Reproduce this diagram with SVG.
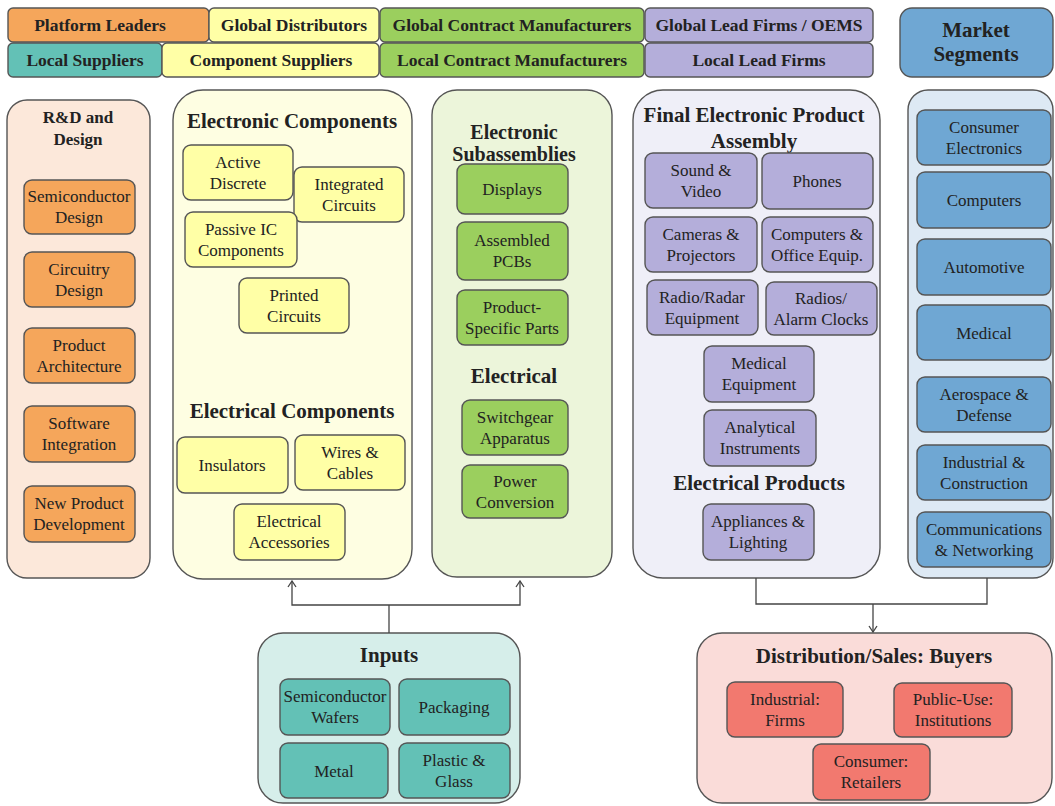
<svg xmlns="http://www.w3.org/2000/svg" width="1055" height="806" viewBox="0 0 1055 806">
<style>
text{font-family:"Liberation Serif","Times New Roman",serif;fill:#222;text-anchor:middle}
.lg{font-size:17.5px;font-weight:bold}
.ti{font-size:21px;font-weight:bold}
.bx{font-size:17px}
rect{stroke:#555;stroke-width:1.4}
.col{rx:20px;ry:20px}
.b{rx:8px;ry:8px}
.or{fill:#F5A65B}.ye{fill:#FFFFA6}.gr{fill:#9BCF5E}.pu{fill:#B4AEDA}.bl{fill:#6FA7D3}.te{fill:#63C1B6}.re{fill:#F2796F}
.conn{fill:none;stroke:#444;stroke-width:1.3}
</style>
<defs>
<marker id="ah" markerWidth="10" markerHeight="10" refX="9" refY="5" orient="auto-start-reverse" markerUnits="userSpaceOnUse" viewBox="0 0 10 10">
<path d="M3,1 L9,5 L3,9" fill="none" stroke="#444" stroke-width="1.3"/>
</marker>
</defs>
<rect width="1055" height="806" style="fill:#fff;stroke:none"/>

<g id="legend">
<rect class="or" x="8" y="8" width="201" height="34" rx="5"/><text class="lg" x="100" y="31">Platform Leaders</text>
<rect class="ye" x="209" y="8" width="170" height="34" rx="5"/><text class="lg" x="294" y="31">Global Distributors</text>
<rect class="gr" x="380" y="8" width="264" height="34" rx="5"/><text class="lg" x="512" y="31">Global Contract Manufacturers</text>
<rect class="pu" x="645" y="8" width="228" height="34" rx="5"/><text class="lg" x="759" y="31">Global Lead Firms / OEMS</text>
<rect class="te" x="8" y="43" width="154" height="34" rx="5"/><text class="lg" x="85" y="66">Local Suppliers</text>
<rect class="ye" x="162" y="43" width="217" height="34" rx="5"/><text class="lg" x="271" y="66">Component Suppliers</text>
<rect class="gr" x="380" y="43" width="264" height="34" rx="5"/><text class="lg" x="512" y="66">Local Contract Manufacturers</text>
<rect class="pu" x="645" y="43" width="228" height="34" rx="5"/><text class="lg" x="759" y="66">Local Lead Firms</text>
<rect class="bl" x="900" y="8" width="153" height="69" rx="12"/><text class="ti" x="976" y="37">Market</text><text class="ti" x="976" y="61">Segments</text>
</g>

<g id="rnd">
<rect class="col" x="7" y="100" width="143" height="478" fill="#FCE8DA"/>
<text class="ti" x="78" y="123" style="font-size:17px">R&amp;D and</text>
<text class="ti" x="78" y="145" style="font-size:17px">Design</text>
<rect class="b or" x="24" y="180" width="111" height="54"/><text class="bx" x="79" y="202">Semiconductor</text><text class="bx" x="79" y="223">Design</text>
<rect class="b or" x="24" y="252" width="111" height="55"/><text class="bx" x="79" y="274.5">Circuitry</text><text class="bx" x="79" y="295.5">Design</text>
<rect class="b or" x="24" y="328" width="111" height="55"/><text class="bx" x="79" y="350.5">Product</text><text class="bx" x="79" y="371.5">Architecture</text>
<rect class="b or" x="24" y="406" width="111" height="56"/><text class="bx" x="79" y="429">Software</text><text class="bx" x="79" y="450">Integration</text>
<rect class="b or" x="24" y="486" width="111" height="56"/><text class="bx" x="79" y="509">New Product</text><text class="bx" x="79" y="530">Development</text>
</g>

<g id="electronic-components">
<rect class="col" x="173" y="90" width="239" height="489" style="rx:30px;ry:30px" fill="#FEFEE2"/>
<text class="ti" x="292" y="128">Electronic Components</text>
<rect class="b ye" x="183" y="145" width="110" height="55"/><text class="bx" x="238" y="167.5">Active</text><text class="bx" x="238" y="188.5">Discrete</text>
<rect class="b ye" x="294" y="167" width="110" height="55"/><text class="bx" x="349" y="189.5">Integrated</text><text class="bx" x="349" y="210.5">Circuits</text>
<rect class="b ye" x="185" y="212" width="112" height="55"/><text class="bx" x="241" y="234.5">Passive IC</text><text class="bx" x="241" y="255.5">Components</text>
<rect class="b ye" x="239" y="278" width="110" height="55"/><text class="bx" x="294" y="300.5">Printed</text><text class="bx" x="294" y="321.5">Circuits</text>
<text class="ti" x="292" y="418">Electrical Components</text>
<rect class="b ye" x="177" y="437" width="111" height="56"/><text class="bx" x="232" y="471">Insulators</text>
<rect class="b ye" x="295" y="435" width="110" height="55"/><text class="bx" x="350" y="457.5">Wires &amp;</text><text class="bx" x="350" y="478.5">Cables</text>
<rect class="b ye" x="234" y="504" width="111" height="56"/><text class="bx" x="289" y="527">Electrical</text><text class="bx" x="289" y="548">Accessories</text>
</g>

<g id="subassemblies">
<rect class="col" x="432" y="90" width="180" height="487" style="rx:25px;ry:25px" fill="#ECF5DA"/>
<text class="ti" x="514" y="139" style="font-size:20px">Electronic</text>
<text class="ti" x="514" y="161" style="font-size:20px">Subassemblies</text>
<rect class="b gr" x="457" y="164" width="111" height="50"/><text class="bx" x="512" y="195">Displays</text>
<rect class="b gr" x="457" y="222" width="111" height="58"/><text class="bx" x="512" y="246">Assembled</text><text class="bx" x="512" y="267">PCBs</text>
<rect class="b gr" x="457" y="290" width="111" height="55"/><text class="bx" x="512" y="312.5">Product-</text><text class="bx" x="512" y="333.5">Specific  Parts</text>
<text class="ti" x="514" y="383">Electrical</text>
<rect class="b gr" x="462" y="400" width="106" height="55"/><text class="bx" x="515" y="422.5">Switchgear</text><text class="bx" x="515" y="443.5">Apparatus</text>
<rect class="b gr" x="462" y="465" width="106" height="53"/><text class="bx" x="515" y="486.5">Power</text><text class="bx" x="515" y="507.5">Conversion</text>
</g>

<g id="final-assembly">
<rect class="col" x="633" y="90" width="247" height="488" style="rx:30px;ry:30px" fill="#EFEFF8"/>
<text class="ti" x="754" y="122">Final Electronic Product</text>
<text class="ti" x="754" y="148">Assembly</text>
<rect class="b pu" x="645" y="153" width="112" height="55"/><text class="bx" x="701" y="175.5">Sound &amp;</text><text class="bx" x="701" y="196.5">Video</text>
<rect class="b pu" x="762" y="153" width="111" height="56"/><text class="bx" x="817" y="187">Phones</text>
<rect class="b pu" x="645" y="217" width="112" height="55"/><text class="bx" x="701" y="239.5">Cameras &amp;</text><text class="bx" x="701" y="260.5">Projectors</text>
<rect class="b pu" x="762" y="217" width="111" height="55"/><text class="bx" x="817" y="239.5">Computers &amp;</text><text class="bx" x="817" y="260.5">Office Equip.</text>
<rect class="b pu" x="647" y="280" width="111" height="55"/><text class="bx" x="702" y="302.5">Radio/Radar</text><text class="bx" x="702" y="323.5">Equipment</text>
<rect class="b pu" x="766" y="282" width="111" height="53"/><text class="bx" x="821" y="303.5">Radios/</text><text class="bx" x="821" y="324.5">Alarm Clocks</text>
<rect class="b pu" x="704" y="346" width="110" height="56"/><text class="bx" x="759" y="369">Medical</text><text class="bx" x="759" y="390">Equipment</text>
<rect class="b pu" x="704" y="410" width="112" height="56"/><text class="bx" x="760" y="433">Analytical</text><text class="bx" x="760" y="454">Instruments</text>
<text class="ti" x="759" y="490">Electrical Products</text>
<rect class="b pu" x="703" y="504" width="111" height="56"/><text class="bx" x="758" y="527">Appliances &amp;</text><text class="bx" x="758" y="548">Lighting</text>
</g>

<g id="market-segments">
<rect class="col" x="908" y="90" width="145" height="488" fill="#DDE9F4"/>
<rect class="b bl" x="917" y="110" width="134" height="55"/><text class="bx" x="984" y="132.5">Consumer</text><text class="bx" x="984" y="153.5">Electronics</text>
<rect class="b bl" x="917" y="172" width="134" height="56"/><text class="bx" x="984" y="206">Computers</text>
<rect class="b bl" x="917" y="239" width="134" height="56"/><text class="bx" x="984" y="273">Automotive</text>
<rect class="b bl" x="917" y="305" width="134" height="55"/><text class="bx" x="984" y="338.5">Medical</text>
<rect class="b bl" x="917" y="377" width="134" height="55"/><text class="bx" x="984" y="399.5">Aerospace &amp;</text><text class="bx" x="984" y="420.5">Defense</text>
<rect class="b bl" x="917" y="445" width="134" height="55"/><text class="bx" x="984" y="467.5">Industrial &amp;</text><text class="bx" x="984" y="488.5">Construction</text>
<rect class="b bl" x="917" y="512" width="134" height="55"/><text class="bx" x="984" y="534.5">Communications</text><text class="bx" x="984" y="555.5">&amp; Networking</text>
</g>

<g id="inputs">
<rect class="col" x="258" y="633" width="262" height="170" style="rx:25px;ry:25px" fill="#D6EEEA"/>
<text class="ti" x="389" y="662">Inputs</text>
<rect class="b te" x="280" y="679" width="110" height="56"/><text class="bx" x="335" y="702">Semiconductor</text><text class="bx" x="335" y="723">Wafers</text>
<rect class="b te" x="399" y="679" width="111" height="56"/><text class="bx" x="454" y="713">Packaging</text>
<rect class="b te" x="280" y="743" width="108" height="55"/><text class="bx" x="334" y="776.5">Metal</text>
<rect class="b te" x="399" y="743" width="111" height="55"/><text class="bx" x="454" y="765.5">Plastic &amp;</text><text class="bx" x="454" y="786.5">Glass</text>
</g>

<g id="distribution">
<rect class="col" x="697" y="633" width="355" height="170" style="rx:25px;ry:25px" fill="#FADCD9"/>
<text class="ti" x="874" y="663">Distribution/Sales: Buyers</text>
<rect class="b re" x="727" y="682" width="116" height="55"/><text class="bx" x="785" y="704.5">Industrial:</text><text class="bx" x="785" y="725.5">Firms</text>
<rect class="b re" x="894" y="683" width="118" height="54"/><text class="bx" x="953" y="705">Public-Use:</text><text class="bx" x="953" y="726">Institutions</text>
<rect class="b re" x="813" y="744" width="117" height="56"/><text class="bx" x="871" y="767">Consumer:</text><text class="bx" x="871" y="788">Retailers</text>
</g>

<g id="connectors">
<path class="conn" d="M389,633 V605"/>
<path class="conn" d="M292,581 V605 H520 V581" marker-start="url(#ah)" marker-end="url(#ah)"/>
<path class="conn" d="M756,578 V604 H987 V578"/>
<path class="conn" d="M873,604 V632" marker-end="url(#ah)"/>
</g>
</svg>
